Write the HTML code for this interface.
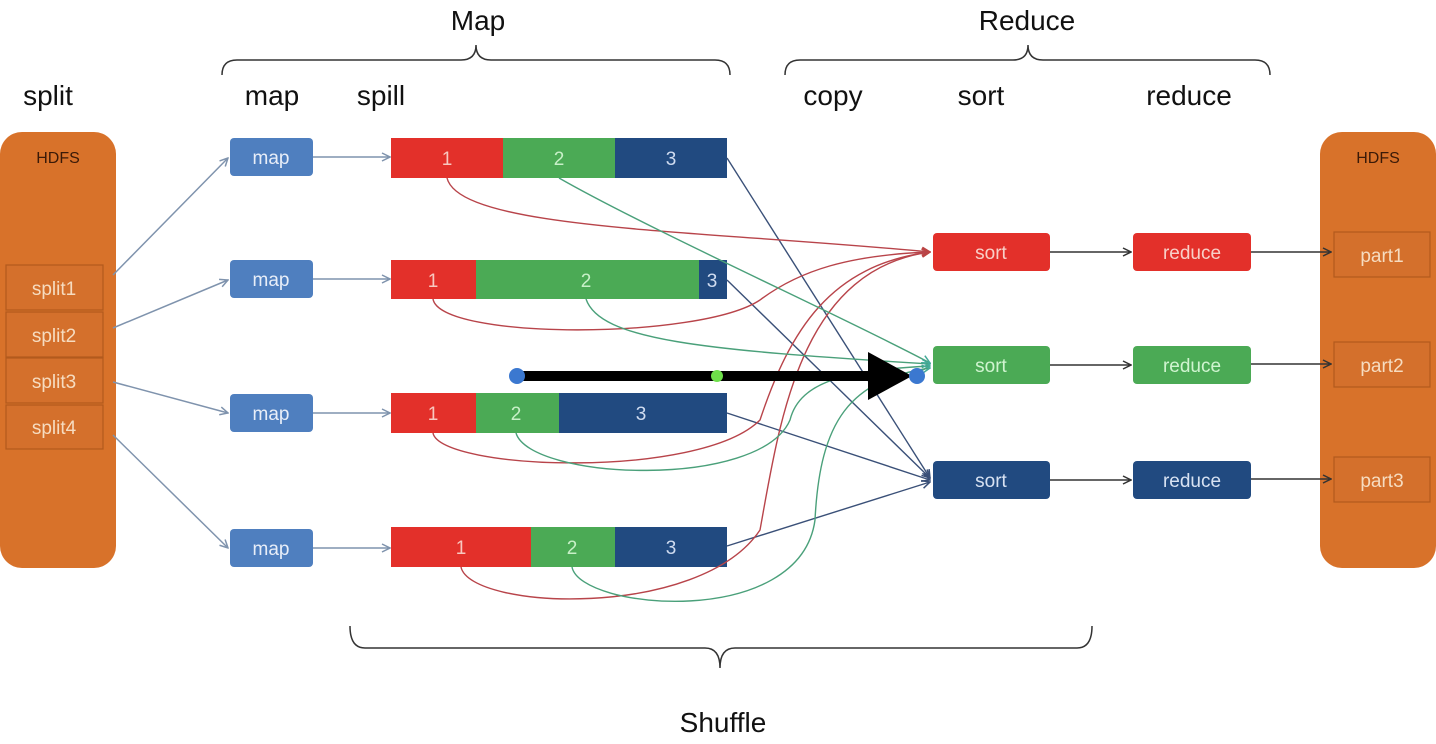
<!DOCTYPE html>
<html><head><meta charset="utf-8"><style>html,body{margin:0;padding:0;background:#fff}svg{display:block}</style></head>
<body>
<svg width="1436" height="744" viewBox="0 0 1436 744" xmlns="http://www.w3.org/2000/svg" font-family="Liberation Sans, sans-serif">
<defs>
<marker id="ag" markerWidth="10" markerHeight="10" refX="9" refY="5" orient="auto" markerUnits="userSpaceOnUse"><path d="M1,1 L9,5 L1,9" fill="none" stroke="#7f93ad" stroke-width="1.5"/></marker>
<marker id="ak" markerWidth="10" markerHeight="10" refX="9" refY="5" orient="auto" markerUnits="userSpaceOnUse"><path d="M1,1 L9,5 L1,9" fill="none" stroke="#333" stroke-width="1.5"/></marker>
<marker id="ar" markerWidth="10" markerHeight="10" refX="9" refY="5" orient="auto" markerUnits="userSpaceOnUse"><path d="M1,1 L9,5 L1,9" fill="none" stroke="#b44" stroke-width="1.5"/></marker>
<marker id="agr" markerWidth="10" markerHeight="10" refX="9" refY="5" orient="auto" markerUnits="userSpaceOnUse"><path d="M1,1 L9,5 L1,9" fill="none" stroke="#4a9" stroke-width="1.5"/></marker>
<marker id="ab" markerWidth="10" markerHeight="10" refX="9" refY="5" orient="auto" markerUnits="userSpaceOnUse"><path d="M1,1 L9,5 L1,9" fill="none" stroke="#3a5078" stroke-width="1.5"/></marker>
</defs>

<!-- top labels -->
<g font-size="28" fill="#111" text-anchor="middle">
<text x="478" y="30">Map</text>
<text x="1027" y="30">Reduce</text>
<text x="48" y="105">split</text>
<text x="272" y="105">map</text>
<text x="381" y="105">spill</text>
<text x="833" y="105">copy</text>
<text x="981" y="105">sort</text>
<text x="1189" y="105">reduce</text>
<text x="723" y="732">Shuffle</text>
</g>

<!-- braces -->
<g fill="none" stroke="#333" stroke-width="1.5">
<path d="M222,75 Q222,60 237,60 L461,60 Q476,60 476,45 Q476,60 491,60 L715,60 Q730,60 730,75"/>
<path d="M785,75 Q785,60 800,60 L1013,60 Q1028,60 1028,45 Q1028,60 1043,60 L1255,60 Q1270,60 1270,75"/>
<path d="M350,626 Q350,648 365,648 L705,648 Q720,648 720,668 Q720,648 735,648 L1077,648 Q1092,648 1092,626"/>
</g>

<!-- HDFS left -->
<rect x="0" y="132" width="116" height="436" rx="22" fill="#D8722A"/>
<text x="58" y="163" font-size="16" fill="#3a1a08" text-anchor="middle">HDFS</text>
<g fill="#D4702C" stroke="#b25a1d" stroke-width="1.2">
<rect x="6" y="265" width="97" height="45"/><rect x="6" y="312" width="97" height="45"/>
<rect x="6" y="358" width="97" height="45"/><rect x="6" y="405" width="97" height="44"/>
</g>
<g font-size="19" fill="#f6dcc0" text-anchor="middle">
<text x="54" y="295">split1</text><text x="54" y="342">split2</text><text x="54" y="388">split3</text><text x="54" y="434">split4</text>
</g>

<!-- HDFS right -->
<rect x="1320" y="132" width="116" height="436" rx="22" fill="#D8722A"/>
<text x="1378" y="163" font-size="16" fill="#3a1a08" text-anchor="middle">HDFS</text>
<g fill="#D4702C" stroke="#b25a1d" stroke-width="1.2">
<rect x="1334" y="232" width="96" height="45"/><rect x="1334" y="342" width="96" height="45"/><rect x="1334" y="457" width="96" height="45"/>
</g>
<g font-size="19" fill="#f6dcc0" text-anchor="middle">
<text x="1382" y="262">part1</text><text x="1382" y="372">part2</text><text x="1382" y="487">part3</text>
</g>

<!-- split -> map arrows -->
<g stroke="#7f93ad" stroke-width="1.5" fill="none" marker-end="url(#ag)">
<line x1="113" y1="275" x2="228" y2="158"/>
<line x1="113" y1="328" x2="228" y2="280"/>
<line x1="113" y1="382" x2="228" y2="413"/>
<line x1="113" y1="435" x2="228" y2="548"/>
<line x1="313" y1="157" x2="390" y2="157"/>
<line x1="313" y1="279" x2="390" y2="279"/>
<line x1="313" y1="413" x2="390" y2="413"/>
<line x1="313" y1="548" x2="390" y2="548"/>
</g>

<!-- map boxes -->
<g fill="#4F7FBF">
<rect x="230" y="138" width="83" height="38" rx="4"/><rect x="230" y="260" width="83" height="38" rx="4"/>
<rect x="230" y="394" width="83" height="38" rx="4"/><rect x="230" y="529" width="83" height="38" rx="4"/>
</g>
<g font-size="19" fill="#e8eef8" text-anchor="middle">
<text x="271" y="164">map</text><text x="271" y="286">map</text><text x="271" y="420">map</text><text x="271" y="555">map</text>
</g>

<!-- spill bars -->
<g>
<rect x="391" y="138" width="112" height="40" fill="#E3302A"/><rect x="503" y="138" width="112" height="40" fill="#4BAA55"/><rect x="615" y="138" width="112" height="40" fill="#214A80"/>
<rect x="391" y="260" width="85" height="39" fill="#E3302A"/><rect x="476" y="260" width="223" height="39" fill="#4BAA55"/><rect x="699" y="260" width="28" height="39" fill="#214A80"/>
<rect x="391" y="393" width="85" height="40" fill="#E3302A"/><rect x="476" y="393" width="83" height="40" fill="#4BAA55"/><rect x="559" y="393" width="168" height="40" fill="#214A80"/>
<rect x="391" y="527" width="140" height="40" fill="#E3302A"/><rect x="531" y="527" width="84" height="40" fill="#4BAA55"/><rect x="615" y="527" width="112" height="40" fill="#214A80"/>
</g>
<g font-size="19" text-anchor="middle">
<text x="447" y="165" fill="#f8c8c0">1</text><text x="559" y="165" fill="#c8f0c8">2</text><text x="671" y="165" fill="#d0dcf0">3</text>
<text x="433" y="287" fill="#f8c8c0">1</text><text x="586" y="287" fill="#c8f0c8">2</text><text x="712" y="287" fill="#d0dcf0">3</text>
<text x="433" y="420" fill="#f8c8c0">1</text><text x="516" y="420" fill="#c8f0c8">2</text><text x="641" y="420" fill="#d0dcf0">3</text>
<text x="461" y="554" fill="#f8c8c0">1</text><text x="572" y="554" fill="#c8f0c8">2</text><text x="671" y="554" fill="#d0dcf0">3</text>
</g>

<!-- shuffle curves: blue -->
<g stroke="#3a5078" stroke-width="1.4" fill="none" marker-end="url(#ab)">
<line x1="727" y1="158" x2="930" y2="478"/>
<line x1="727" y1="280" x2="930" y2="478"/>
<line x1="727" y1="413" x2="930" y2="480"/>
<line x1="727" y1="546" x2="930" y2="482"/>
</g>
<!-- red curves -->
<g stroke="#b8444a" stroke-width="1.4" fill="none" marker-end="url(#ar)">
<path d="M447,178 C460,230 700,230 930,252"/>
<path d="M433,299 C440,340 700,340 760,300 C800,270 850,255 930,252"/>
<path d="M433,433 C440,470 700,480 760,420 C790,330 830,265 930,252"/>
<path d="M461,567 C470,610 700,620 760,530 C780,420 800,270 930,252"/>
</g>
<!-- green curves -->
<g stroke="#4aa07a" stroke-width="1.4" fill="none" marker-end="url(#agr)">
<path d="M559,178 C650,230 850,320 930,363"/>
<path d="M586,299 C600,340 700,350 930,364"/>
<path d="M516,433 C530,480 760,490 790,420 C800,380 850,370 930,366"/>
<path d="M572,567 C580,610 800,630 815,520 C820,420 850,380 930,368"/>
</g>

<!-- sort / reduce -->
<rect x="933" y="233" width="117" height="38" rx="4" fill="#E3302A"/>
<rect x="933" y="346" width="117" height="38" rx="4" fill="#4BAA55"/>
<rect x="933" y="461" width="117" height="38" rx="4" fill="#214A80"/>
<rect x="1133" y="233" width="118" height="38" rx="4" fill="#E3302A"/>
<rect x="1133" y="346" width="118" height="38" rx="4" fill="#4BAA55"/>
<rect x="1133" y="461" width="118" height="38" rx="4" fill="#214A80"/>
<g font-size="19" text-anchor="middle">
<text x="991" y="259" fill="#f8d0c8">sort</text><text x="991" y="372" fill="#d0f4d0">sort</text><text x="991" y="487" fill="#d8e2f2">sort</text>
<text x="1192" y="259" fill="#f8d0c8">reduce</text><text x="1192" y="372" fill="#d0f4d0">reduce</text><text x="1192" y="487" fill="#d8e2f2">reduce</text>
</g>
<g stroke="#333" stroke-width="1.5" fill="none" marker-end="url(#ak)">
<line x1="1050" y1="252" x2="1131" y2="252"/><line x1="1050" y1="365" x2="1131" y2="365"/><line x1="1050" y1="480" x2="1131" y2="480"/>
<line x1="1251" y1="252" x2="1331" y2="252"/><line x1="1251" y1="364" x2="1331" y2="364"/><line x1="1251" y1="479" x2="1331" y2="479"/>
</g>

<!-- black overlay arrow -->
<line x1="517" y1="376" x2="872" y2="376" stroke="#000" stroke-width="10"/>
<polygon points="868,352 868,400 912,376" fill="#000"/>
<circle cx="517" cy="376" r="8" fill="#3B78D0"/>
<circle cx="717" cy="376" r="6" fill="#6EE04A"/>
<circle cx="917" cy="376" r="8" fill="#3B78D0"/>
</svg>
</body></html>
